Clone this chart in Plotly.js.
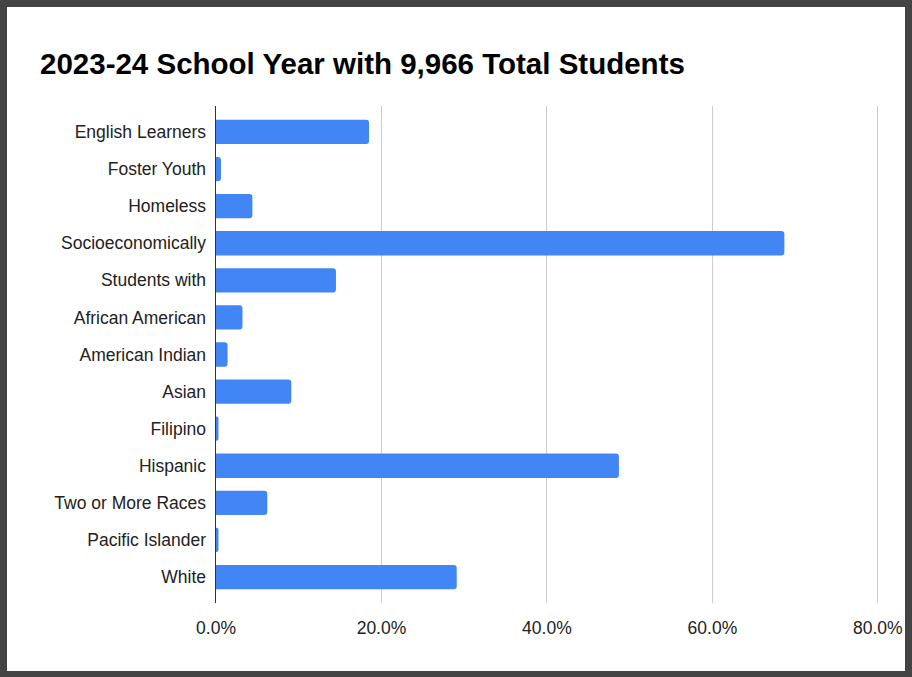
<!DOCTYPE html>
<html>
<head>
<meta charset="utf-8">
<script src="https://cdn.plot.ly/plotly-3.0.1.min.js"></script>
<style>
  html, body { margin: 0; padding: 0; background: #fff; }
  #wrap { position: relative; width: 912px; height: 677px; }
  #chart { position: absolute; left: 0; top: 0; width: 912px; height: 677px; }
  #frame { position: absolute; left: 0; top: 0; width: 912px; height: 677px; box-sizing: border-box;
           border-style: solid; border-color: #444444; border-width: 7px 7px 6px 7px; pointer-events: none; }
</style>
</head>
<body>
<div id="wrap">
  <div id="chart"></div>
  <div id="frame"></div>
</div>
<script>
const chartTitle = "2023-24 School Year with 9,966 Total Students";
const categories = [
  "English Learners", "Foster Youth", "Homeless", "Socioeconomically",
  "Students with", "African American", "American Indian", "Asian",
  "Filipino", "Hispanic", "Two or More Races", "Pacific Islander", "White"
];
const shares = [0.185, 0.006, 0.044, 0.687, 0.145, 0.032, 0.014, 0.091, 0.003, 0.487, 0.062, 0.003, 0.291];
const xTickVals = [0, 0.2, 0.4, 0.6, 0.8];
const xTickText = ["0.0%", "20.0%", "40.0%", "60.0%", "80.0%"];

const trace = {
  type: "bar",
  orientation: "h",
  y: categories,
  x: shares,
  marker: { color: "#4285F4", cornerradius: 3, line: { width: 0 } },
  hoverinfo: "x+y"
};

const labelFont = "'Liberation Sans', Arial, sans-serif";

const layout = {
  width: 912,
  height: 677,
  paper_bgcolor: "#ffffff",
  plot_bgcolor: "#ffffff",
  margin: { l: 216, r: 30, t: 106, b: 74, pad: 0 },
  title: {
    text: chartTitle,
    x: 40 / 912, xanchor: "left", xref: "container",
    y: 1 - 64 / 677, yanchor: "middle", yref: "container",
    font: { family: labelFont, size: 29.5, color: "#000000", weight: "bold" }
  },
  bargap: 0.345,
  showlegend: false,
  xaxis: {
    range: [0, 0.805],
    tickvals: xTickVals,
    ticktext: xTickText,
    showgrid: true,
    gridcolor: "#cccccc",
    gridwidth: 1,
    zeroline: false,
    showline: false,
    ticks: "",
    ticklabelstandoff: 12,
    tickfont: { family: labelFont, size: 17.5, color: "#222222" },
    fixedrange: true
  },
  yaxis: {
    type: "category",
    range: [12.7, -0.7],
    showgrid: false,
    zeroline: false,
    showline: true,
    linecolor: "#333333",
    linewidth: 1.5,
    ticks: "",
    ticklabelstandoff: 5,
    tickfont: { family: labelFont, size: 17.5, color: "#222222" },
    fixedrange: true
  }
};

Plotly.newPlot("chart", [trace], layout, { displayModeBar: false, staticPlot: true });
</script>
</body>
</html>
